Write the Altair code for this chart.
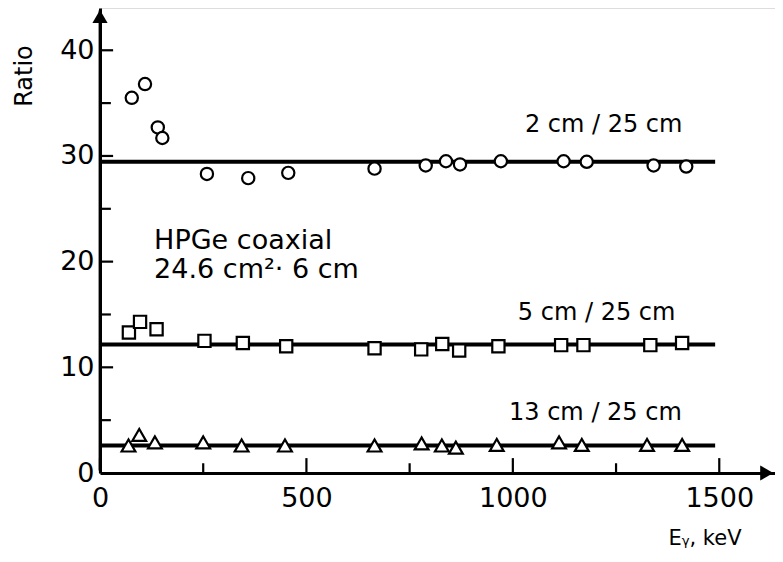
import altair as alt
import pandas as pd

# ---- data ----
circ_x = [77, 109, 140, 151, 259, 359, 456, 665, 789, 838, 872, 971, 1123, 1179, 1341, 1420]
circ_y = [35.5, 36.8, 32.7, 31.7, 28.3, 27.9, 28.4, 28.8, 29.1, 29.5, 29.2, 29.5, 29.5, 29.45, 29.1, 29.0]

sq_x = [70, 97, 137, 253, 346, 451, 665, 778, 829, 870, 965, 1117, 1171, 1333, 1410]
sq_y = [13.3, 14.3, 13.6, 12.5, 12.3, 12.0, 11.8, 11.7, 12.2, 11.6, 12.0, 12.1, 12.1, 12.1, 12.3]

tri_x = [69, 95, 133, 250, 343, 448, 665, 779, 828, 862, 961, 1112, 1167, 1325, 1410]
tri_y = [2.6, 3.6, 2.9, 2.9, 2.6, 2.6, 2.6, 2.8, 2.6, 2.4, 2.65, 2.9, 2.65, 2.65, 2.65]

fit_levels = [29.45, 12.15, 2.6]
fit_start = [0, 0, 0]
fit_end = [1490, 1490, 1490]

series_labels = ["2 cm / 25 cm", "5 cm / 25 cm", "13 cm / 25 cm"]
label_x = [1220, 1203, 1200]
label_y = [32.9, 15.1, 5.7]

note_lines = ["HPGe coaxial", "24.6 cm²· 6 cm"]
note_x = [131, 131]
note_y = [22.0, 19.2]

x_major = [0, 500, 1000, 1500]
x_minor = [250, 750, 1250]
y_major = [10, 20, 30, 40]
y_minor = [5, 15, 25, 35]
y_labels = [0, 10, 20, 30, 40]

FONT = "DejaVu Sans"
XMAX = 1635
YMAX = 44

xscale = alt.Scale(domain=[0, XMAX], nice=False, zero=False)
yscale = alt.Scale(domain=[0, YMAX], nice=False, zero=False)
xaxis = alt.Axis(values=x_major, format="d", domain=True, domainColor="black", domainWidth=3,
                 domainOpacity=1, ticks=False, grid=False, zindex=1,
                 labelFontSize=27, labelFont=FONT, labelColor="black", labelPadding=12,
                 title=None, labelFlush=False)
yaxis = alt.Axis(values=y_labels, format="d", domain=True, domainColor="black", domainWidth=3,
                 domainOpacity=1, ticks=False, grid=False, zindex=1,
                 labelFontSize=27, labelFont=FONT, labelColor="black", labelPadding=6,
                 title=None)


def X(f="x"):
    return alt.X(f"{f}:Q", scale=xscale, axis=xaxis)


def Y(f="y"):
    return alt.Y(f"{f}:Q", scale=yscale, axis=yaxis)


# fitted lines
fit_df = pd.DataFrame({"x": fit_start, "x2": fit_end, "y": fit_levels})
fits = alt.Chart(fit_df).mark_rule(color="black", strokeWidth=4).encode(
    x=X(), x2="x2:Q", y=Y())


def pts(xs, ys, shape, size):
    df = pd.DataFrame({"x": xs, "y": ys})
    return alt.Chart(df).mark_point(shape=shape, size=size, filled=True, fill="white",
                                    stroke="black", strokeWidth=2.2, opacity=1).encode(
        x=X(), y=Y())


circles = pts(circ_x, circ_y, "circle", 150)
squares = pts(sq_x, sq_y, "square", 150)
tris = pts(tri_x, tri_y, "triangle-up", 190)

# explicit vertical axis line (full plot height) and arrow heads
yline = alt.Chart(pd.DataFrame({"x": [0], "y": [YMAX / 2]})).mark_tick(
    color="black", orient="vertical", size=460, thickness=2.8, opacity=1).encode(x=X(), y=Y())
yarrow = alt.Chart(pd.DataFrame({"x": [0], "y": [YMAX - 0.8]})).mark_point(
    shape="triangle-up", size=230, filled=True, color="black", opacity=1).encode(x=X(), y=Y())
xarrow = alt.Chart(pd.DataFrame({"x": [XMAX - 20], "y": [0]})).mark_point(
    shape="triangle-right", size=230, filled=True, color="black", opacity=1).encode(x=X(), y=Y())

# ticks (pointing into the plot)
xt_major = alt.Chart(pd.DataFrame({"x": x_major, "y": [0.7] * 4})).mark_tick(
    color="black", orient="vertical", size=15, thickness=2.2, opacity=1).encode(x=X(), y=Y())
xt_minor = alt.Chart(pd.DataFrame({"x": x_minor, "y": [0.45] * 3})).mark_tick(
    color="black", orient="vertical", size=10, thickness=2.2, opacity=1).encode(x=X(), y=Y())
yt_major = alt.Chart(pd.DataFrame({"y": y_major, "x": [16] * 4})).mark_tick(
    color="black", orient="horizontal", size=13, thickness=2.2, opacity=1).encode(y=Y(), x=X())
yt_minor = alt.Chart(pd.DataFrame({"y": y_minor, "x": [13] * 4})).mark_tick(
    color="black", orient="horizontal", size=11, thickness=2.2, opacity=1).encode(y=Y(), x=X())

# texts
lab_df = pd.DataFrame({"x": label_x, "y": label_y, "t": series_labels})
labels = alt.Chart(lab_df).mark_text(font=FONT, fontSize=24, color="black", align="center",
                                     baseline="middle").encode(x=X(), y=Y(), text="t:N")
note_df = pd.DataFrame({"x": note_x, "y": note_y, "t": note_lines})
notes = alt.Chart(note_df).mark_text(font=FONT, fontSize=27, color="black", align="left",
                                     baseline="middle").encode(x=X(), y=Y(), text="t:N")

ratio = alt.Chart(pd.DataFrame({"t": ["Ratio"]})).mark_text(
    font=FONT, fontSize=24, angle=270, color="black", align="center", baseline="middle").encode(
    x=alt.value(-75), y=alt.value(68), text="t:N")
xtitle = alt.Chart(pd.DataFrame({"t": ["Eᵧ, keV"]})).mark_text(
    font=FONT, fontSize=21, color="black", align="center", baseline="middle").encode(
    x=alt.value(605), y=alt.value(531), text="t:N")

chart = alt.layer(
    fits, yline, yarrow, xarrow, xt_major, xt_minor, yt_major, yt_minor,
    circles, squares, tris, labels, notes, ratio, xtitle
).properties(
    width=675, height=465,
    autosize=alt.AutoSizeParams(type="none"),
    padding={"left": 92, "top": 0, "right": 0, "bottom": 81},
).configure_view(strokeWidth=0, stroke="white").configure(background="white")

chart.save("out.html", embed_options={"renderer": "svg", "actions": False})
